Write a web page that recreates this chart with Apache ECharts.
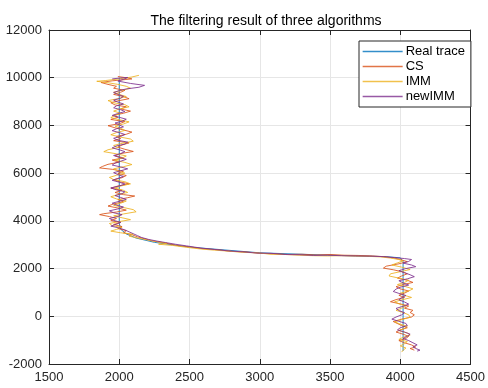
<!DOCTYPE html>
<html>
<head>
<meta charset="utf-8">
<script src="https://cdn.jsdelivr.net/npm/echarts@6/dist/echarts.min.js"></script>
<style>
  html, body { margin: 0; padding: 0; background: #fff; }
  #chart { width: 488px; height: 388px; }
</style>
</head>
<body>
<div id="chart"></div>
<script>
  // tick values
  const xTicks = [1500, 2000, 2500, 3000, 3500, 4000, 4500];
  const yTicks = [-2000, 0, 2000, 4000, 6000, 8000, 10000, 12000];

  const seriesNames = ['Real trace', 'CS', 'IMM', 'newIMM'];

  // [x, y]
  const realTrace = [
    [2000, 10000], [2000, 3900], [2010, 3650], [2050, 3450], [2120, 3280],
    [2250, 3100], [2500, 2900], [3000, 2660], [3500, 2560], [3900, 2500],
    [4000, 2450], [4020, 2300], [4020, -1450]
  ];

  const csTrace = [
    [1990, 10050], [2060, 9990], [2090, 9950], [1950, 9870], [1870, 9800], [1920, 9720],
    [1980, 9640], [1960, 9560], [2040, 9470], [2010, 9390], [1960, 9300], [2030, 9210],
    [2070, 9120], [1990, 9030], [1940, 8950], [1970, 8860], [2050, 8780], [2010, 8690],
    [2080, 8600], [2030, 8510], [1960, 8420], [1990, 8340], [1940, 8250], [2040, 8160],
    [2000, 8070], [1920, 7990], [1970, 7900], [2030, 7810], [2090, 7720], [2050, 7630],
    [1980, 7540], [2010, 7450], [1960, 7360], [2070, 7270], [2020, 7180], [1990, 7090],
    [2040, 7000], [2100, 6910], [2010, 6820], [1970, 6730], [2030, 6640], [1950, 6550],
    [2000, 6460], [1920, 6370], [1880, 6280], [1860, 6220], [1950, 6160], [2030, 6080],
    [1990, 5990], [2050, 5900], [2020, 5810], [1960, 5720], [2000, 5640], [2070, 5550],
    [1990, 5460], [1940, 5370], [2020, 5280], [1970, 5190], [2030, 5100], [2110, 5040],
    [2060, 4970], [1990, 4890], [2030, 4800], [1960, 4710], [1920, 4620], [1990, 4540],
    [2050, 4450], [1980, 4370], [1890, 4300], [1860, 4260], [1930, 4180], [1980, 4100],
    [1940, 4010], [2010, 3930], [1960, 3850], [2020, 3760], [1990, 3680], [2050, 3590],
    [2030, 3500], [2090, 3420], [2130, 3330], [2180, 3250], [2230, 3170], [2300, 3100],
    [2360, 3030], [2420, 2960], [2500, 2910], [2600, 2830], [2700, 2790], [2800, 2720],
    [2900, 2700], [3000, 2640], [3100, 2620], [3200, 2590], [3300, 2600], [3400, 2570],
    [3500, 2590], [3600, 2560], [3700, 2550], [3800, 2530], [3880, 2500], [3950, 2450],
    [4000, 2380], [4050, 2290], [3990, 2200], [3900, 2100], [3880, 2020], [3950, 1950],
    [4010, 1870], [4050, 1780], [4010, 1690], [3980, 1600], [4050, 1510], [4090, 1420],
    [4020, 1330], [3970, 1240], [4000, 1150], [4060, 1060], [4030, 970], [3990, 880],
    [4030, 790], [3970, 700], [3930, 610], [4000, 520], [4060, 430], [4030, 340],
    [4090, 250], [4070, 160], [4100, 60], [4080, -30], [4010, -120], [3950, -220],
    [3960, -300], [4010, -390], [4050, -480], [4000, -570], [3970, -660], [4020, -750],
    [4060, -840], [4040, -930], [3990, -1020], [4030, -1110], [4080, -1200], [4110, -1290],
    [4070, -1350], [4100, -1420]
  ];

  const immTrace = [
    [2140, 10100], [2090, 10030], [2000, 9950], [1900, 9880], [1840, 9850], [1920, 9790],
    [1990, 9720], [2050, 9640], [2080, 9560], [2020, 9470], [1960, 9390], [2000, 9300],
    [2050, 9210], [1990, 9120], [1920, 9040], [1960, 8950], [2040, 8870], [2070, 8780],
    [2000, 8690], [1960, 8600], [2010, 8510], [1970, 8420], [1940, 8330], [2000, 8240],
    [2070, 8150], [2030, 8060], [1970, 7970], [2010, 7880], [2040, 7790], [1980, 7700],
    [1940, 7610], [2000, 7520], [2080, 7430], [2100, 7340], [2020, 7250], [1960, 7160],
    [1990, 7070], [1920, 6980], [1890, 6900], [1980, 6810], [2050, 6720], [2020, 6630],
    [1970, 6540], [2040, 6450], [2090, 6360], [2030, 6270], [1960, 6180], [1990, 6090],
    [2040, 6000], [1980, 5910], [1930, 5820], [1960, 5730], [2040, 5640], [2080, 5550],
    [2010, 5460], [1970, 5370], [2030, 5280], [2060, 5190], [1990, 5100], [1940, 5010],
    [1980, 4920], [2050, 4830], [2010, 4740], [1960, 4650], [2030, 4560], [2100, 4470],
    [2120, 4380], [2030, 4290], [1960, 4210], [2020, 4130], [2080, 4050], [2000, 3970],
    [1930, 3890], [1950, 3800], [2020, 3720], [1980, 3640], [1940, 3570], [2010, 3500],
    [2100, 3440], [2070, 3360], [2130, 3280], [2200, 3200], [2260, 3130], [2340, 3060],
    [2280, 3020], [2380, 2970], [2480, 2890], [2580, 2820], [2680, 2770], [2780, 2730],
    [2880, 2680], [2980, 2660], [3080, 2600], [3180, 2590], [3280, 2560], [3380, 2540],
    [3480, 2530], [3580, 2540], [3680, 2520], [3780, 2510], [3860, 2490], [3930, 2440],
    [3990, 2380], [4020, 2320], [3980, 2240], [3940, 2150], [4010, 2060], [4070, 1960],
    [4000, 1870], [3930, 1780], [3920, 1690], [3990, 1600], [4060, 1510], [4030, 1420],
    [3980, 1330], [4040, 1240], [4090, 1150], [4060, 1060], [4000, 970], [4030, 880],
    [4080, 790], [4020, 700], [3960, 610], [3990, 520], [4040, 430], [4010, 340],
    [3970, 250], [4020, 160], [4060, 60], [4070, -40], [4010, -140], [3960, -230],
    [4000, -330], [4050, -420], [4030, -510], [3990, -600], [4050, -700], [4070, -790],
    [4020, -880], [3990, -970], [4050, -1060], [4030, -1150], [4000, -1240], [4040, -1330],
    [4020, -1420], [4010, -1500]
  ];

  const newImmTrace = [
    [1950, 9950], [2010, 9990], [2060, 10010], [2030, 9930], [1990, 9860], [2080, 9760],
    [2180, 9680], [2140, 9600], [2050, 9530], [2000, 9460], [1960, 9380], [1990, 9300],
    [2030, 9220], [2010, 9140], [1960, 9060], [1990, 8980], [2030, 8900], [1980, 8820],
    [1960, 8740], [2010, 8660], [2040, 8580], [1990, 8500], [1950, 8420], [2000, 8340],
    [2050, 8260], [2020, 8180], [1970, 8100], [2000, 8020], [2030, 7940], [1980, 7860],
    [1950, 7780], [2000, 7700], [2040, 7620], [2010, 7540], [1960, 7460], [1990, 7380],
    [2060, 7300], [2040, 7220], [1980, 7140], [1950, 7060], [2000, 6980], [2040, 6900],
    [2010, 6820], [1960, 6740], [2000, 6660], [2050, 6580], [2010, 6500], [1970, 6420],
    [1950, 6340], [2010, 6260], [2060, 6180], [2010, 6100], [1960, 6020], [1990, 5940],
    [2030, 5860], [1990, 5780], [1950, 5700], [2000, 5620], [2040, 5540], [2000, 5460],
    [1940, 5380], [1980, 5300], [2040, 5220], [2020, 5140], [1970, 5060], [2010, 4980],
    [2050, 4900], [2000, 4820], [1950, 4740], [1980, 4660], [2030, 4580], [1990, 4500],
    [1930, 4420], [1960, 4340], [2020, 4260], [1990, 4180], [1930, 4100], [1960, 4020],
    [2010, 3940], [1980, 3860], [1940, 3780], [2000, 3700], [2040, 3620], [2070, 3540],
    [2100, 3460], [2130, 3380], [2160, 3300], [2210, 3220], [2270, 3150], [2330, 3090],
    [2400, 3020], [2480, 2950], [2580, 2860], [2680, 2800], [2780, 2740], [2880, 2700],
    [2980, 2650], [3080, 2640], [3180, 2590], [3280, 2580], [3380, 2550], [3480, 2560],
    [3580, 2540], [3680, 2530], [3780, 2520], [3880, 2500], [3960, 2460], [4030, 2420],
    [4080, 2380], [4060, 2300], [4020, 2230], [4080, 2150], [4110, 2080], [4040, 2000],
    [3990, 1910], [4030, 1830], [4070, 1740], [4100, 1660], [4050, 1570], [3990, 1490],
    [4020, 1400], [4060, 1310], [4000, 1220], [3970, 1140], [3950, 1040], [3990, 960],
    [4040, 870], [4010, 780], [3990, 690], [4030, 600], [4060, 510], [4020, 420],
    [3970, 330], [3990, 240], [4030, 150], [4010, 60], [3970, -30], [3940, -120],
    [3990, -210], [4040, -300], [4050, -390], [4000, -480], [3980, -570], [4030, -660],
    [4070, -750], [4050, -840], [4020, -930], [4060, -1020], [4090, -1110], [4120, -1200],
    [4090, -1280], [4110, -1350], [4140, -1420], [4120, -1460]
  ];

  const traces = [realTrace, csTrace, immTrace, newImmTrace];
  const colors = ['#0072BD', '#D95319', '#EDB120', '#7E2F8E'];

  const axisColor = '#262626';
  const gridColor = '#e6e6e6';
  const font = 'Liberation Sans, Arial, sans-serif';

  const boxAxis = (min, max, interval, position, labels) => ({
    type: 'value',
    min,
    max,
    interval,
    position,
    axisLine: { show: true, onZero: false, lineStyle: { color: axisColor, width: 1 } },
    axisTick: { show: true, inside: true, length: 5, lineStyle: { color: axisColor } },
    axisLabel: {
      show: labels,
      color: axisColor,
      fontSize: 13,
      fontFamily: font,
      margin: 7,
      formatter: v => String(v)
    },
    splitLine: { show: labels, lineStyle: { color: gridColor, width: 1 } }
  });

  const chart = echarts.init(document.getElementById('chart'), null, { renderer: 'canvas' });

  chart.setOption({
    animation: false,
    backgroundColor: '#fff',
    title: {
      text: 'The filtering result of three algorithms',
      left: 261,
      top: 9,
      textAlign: 'center',
      textStyle: { fontSize: 14, fontWeight: 'normal', color: '#000', fontFamily: font }
    },
    grid: { left: 49, right: 15, top: 30, bottom: 24, containLabel: false },
    xAxis: [
      boxAxis(xTicks[0], xTicks[xTicks.length - 1], 500, 'bottom', true),
      boxAxis(xTicks[0], xTicks[xTicks.length - 1], 500, 'top', false)
    ],
    yAxis: [
      boxAxis(yTicks[0], yTicks[yTicks.length - 1], 2000, 'left', true),
      boxAxis(yTicks[0], yTicks[yTicks.length - 1], 2000, 'right', false)
    ],
    legend: {
      data: seriesNames.map((name, i) => ({
        name,
        itemStyle: { opacity: 0 },
        lineStyle: { color: colors[i], width: 1.3, opacity: 0.8 }
      })),
      orient: 'vertical',
      left: 359,
      top: 41,
      padding: [4, 6, 4, 3],
      itemWidth: 40,
      itemHeight: 15,
      itemGap: 2,
      borderColor: axisColor,
      borderWidth: 1,
      backgroundColor: '#fff',
      textStyle: { fontSize: 13, color: '#000', fontFamily: font, padding: [0, 0, 0, -2] }
    },
    series: seriesNames.map((name, i) => ({
      name,
      type: 'line',
      data: traces[i],
      symbol: 'none',
      color: colors[i],
      lineStyle: { width: 1, color: colors[i], opacity: 0.85 },
      z: 2 + i
    }))
  });
</script>
</body>
</html>
